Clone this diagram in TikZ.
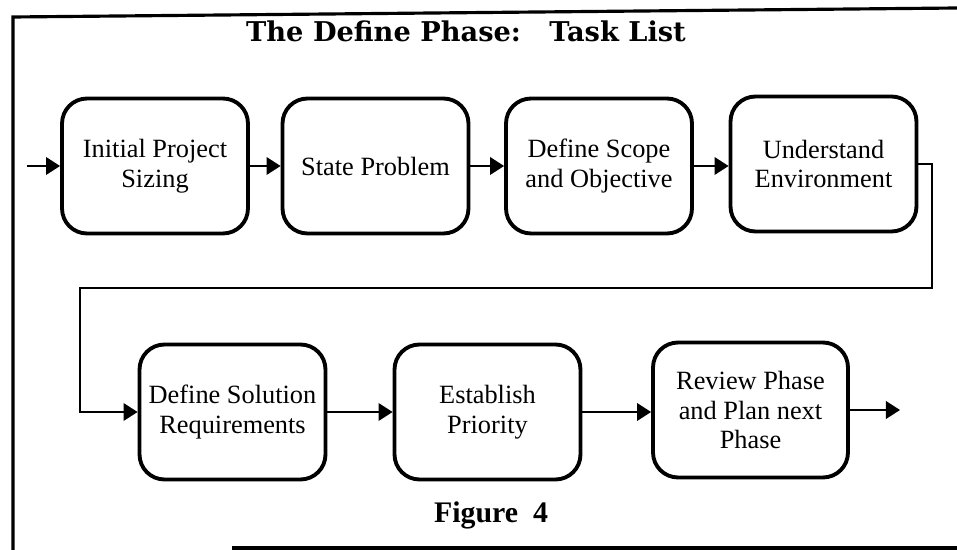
\documentclass[tikz,border=0pt]{standalone}
\usepackage{fontspec}
\setmainfont{Liberation Serif}
\newfontfamily\headfont{DejaVu Serif}
\usetikzlibrary{arrows.meta}

\begin{document}
\begin{tikzpicture}[>={Triangle[length=8pt,width=10pt]},x=0.02cm,y=-0.02cm,
	task/.style={draw,line width=2.2pt,rounded corners=0.5cm,minimum width=3.72cm,minimum height=2.7cm,align=center,inner sep=2pt,font=\fontsize{15}{17}\selectfont},
	link/.style={->,line width=1.1pt}]
	\useasboundingbox (0,0) rectangle (957,550);
	% frame
	\draw[line width=1.8pt] (957,8) -- (13,17) -- (13,550);
	\draw[line width=1.8pt] (232,548) -- (957,548);
	\node[anchor=base,font=\headfont\bfseries\fontsize{15.5}{18}\selectfont] (title) at (466,42) {The Define Phase:\ \ \ Task List};
	% first row
	\node[task] (init) at (155,166) {Initial Project\\Sizing};
	\node[task] (state) at (375.5,166) {State Problem};
	\node[task] (scope) at (599,166) {Define Scope\\and Objective};
	\node[task] (envir) at (823.5,164) {Understand\\Environment};
	% second row
	\node[task] (solreq) at (232.5,412) {Define Solution\\Requirements};
	\node[task] (prio) at (487.5,412) {Establish\\Priority};
	\node[task,minimum width=3.9cm] (review) at (750.5,410) {Review Phase\\and Plan next\\Phase};
	\node[anchor=base,font=\bfseries\fontsize{17}{20}\selectfont] (fig) at (491,522) {Figure\ \ 4};
	% connectors
	\coordinate (in) at (27,166);
	\coordinate (turn) at (932,288);
	\coordinate (back) at (80,288);
	\coordinate (out) at (900,410);
	\draw[link] (in) -- (init);
	\draw[link] (init) -- (state);
	\draw[link] (state) -- (scope);
	\draw[link] (scope) -- (envir.west |- scope);
	\draw[link] (envir.east) -| (turn) -- (back) |- (solreq.west);
	\draw[link] (solreq) -- (prio);
	\draw[link] (prio.east) -- (review.west |- prio);
	\draw[link] (review) -- (out);
\end{tikzpicture}
\end{document}
